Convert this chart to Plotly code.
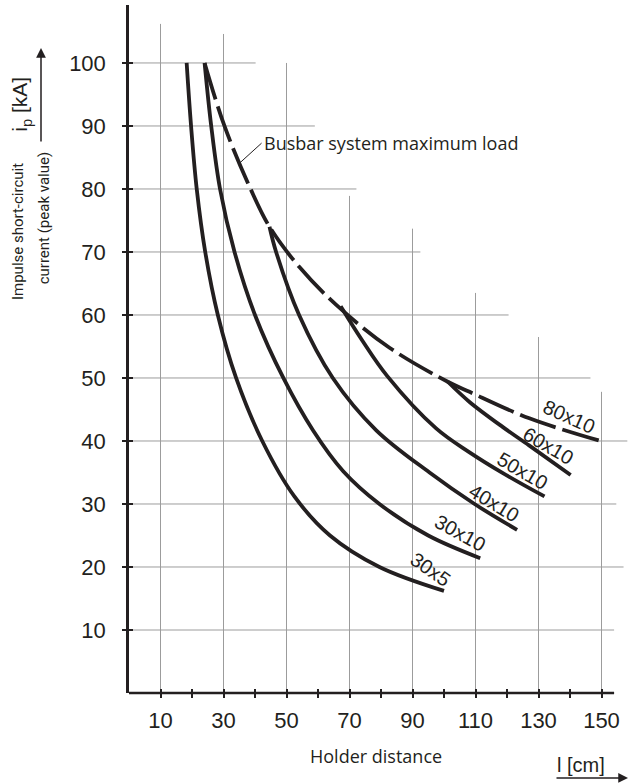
import plotly.graph_objects as go

# curves, holder distance l [cm] vs peak current ip [kA]
x_30x5 = [18.3, 19.7, 21.5, 24.2, 28.2, 34.0, 42.3, 52.5, 63.8, 79.5, 100.0]
y_30x5 = [100, 90, 80, 70, 60, 50, 40, 31.2, 25, 20, 16.2]

x_30x10 = [24.0, 26.1, 28.9, 33.5, 40.0, 49.0, 58.4, 68.0, 79.5, 95.0, 111.5]
y_30x10 = [100, 90, 80, 70, 60, 50, 41.7, 35.2, 30, 25, 21.4]

x_40x10 = [44.6, 46.7, 54.0, 64.7, 78.5, 95.4, 109.7, 123.2]
y_40x10 = [74, 70, 60, 50, 41.7, 35, 30, 25.9]

x_50x10 = [67.2, 74.0, 82.0, 97.5, 108.1, 118.7, 131.9]
y_50x10 = [61.4, 56, 50.3, 42, 38.2, 34.9, 31.2]

x_60x10 = [101.2, 108.1, 118.7, 127.0, 140.2]
y_60x10 = [49.4, 46.2, 42.2, 39.3, 34.6]

# busbar system maximum load (dashed), its tail is the 80x10 curve
x_maxload = [24.0, 30.3, 38.6, 44.6, 54.1, 65.8, 82.7, 101.2, 108.1, 127.1, 150.4]
y_maxload = [100, 90, 80, 74, 67.6, 61.6, 54.8, 49.4, 47.8, 43.6, 39.9]

curve_names = ["30x5", "30x10", "40x10", "50x10", "60x10", "80x10"]

x_ticks = [10, 20, 30, 40, 50, 60, 70, 80, 90, 100, 110, 120, 130, 140, 150]
x_ticktext = ["10", "", "30", "", "50", "", "70", "", "90", "", "110", "", "130", "", "150"]
y_ticks = [10, 20, 30, 40, 50, 60, 70, 80, 90, 100]

# the grid is stepped: each line stops at its own length
grid_x = [10, 30, 50, 70, 90, 110, 130, 150]
grid_x_top = [106.2, 104.6, 100.0, 78.9, 73.7, 63.5, 56.5, 47.8]
grid_y = [10, 20, 30, 40, 50, 60, 70, 80, 90, 100]
grid_y_end = [154.0, 157.0, 154.7, 158.2, 146.5, 120.5, 92.5, 72.2, 59.0, 40.2]

X_RANGE = [0, 158.73]
Y_RANGE = [0, 109.2]
X_AXIS_END = 154

INK = "#231f20"
GRID = "#9c9c9c"
ARIAL = "Liberation Sans, Arial, sans-serif"
MYRIAD = "Open Sans, Noto Sans, sans-serif"
NARROW = "Liberation Sans Narrow, Roboto, sans-serif"

fig = go.Figure()

# grid lines
gx, gy = [], []
for x, top in zip(grid_x, grid_x_top):
    gx += [x, x, None]
    gy += [0, top, None]
for y, end in zip(grid_y, grid_y_end):
    gx += [0, end, None]
    gy += [y, y, None]
fig.add_trace(go.Scatter(x=gx, y=gy, mode="lines", line=dict(color=GRID, width=1),
                         hoverinfo="skip", showlegend=False))

curves = [(x_30x5, y_30x5), (x_30x10, y_30x10), (x_40x10, y_40x10),
          (x_50x10, y_50x10), (x_60x10, y_60x10)]
for name, (xs, ys) in zip(curve_names, curves):
    fig.add_trace(go.Scatter(x=xs, y=ys, mode="lines", name=name,
                             line=dict(color=INK, width=3.8, shape="spline", smoothing=1),
                             showlegend=False))

fig.add_trace(go.Scatter(x=x_maxload, y=y_maxload, mode="lines", name="max load",
                         line=dict(color=INK, width=3.8, shape="spline", smoothing=1,
                                   dash="38px,7px"),
                         showlegend=False))

# empty trace so the second axes (inner tick halves) get drawn
fig.add_trace(go.Scatter(x=[], y=[], xaxis="x2", yaxis="y2", showlegend=False, hoverinfo="skip"))

# curve labels, placed from the end of each curve
ends = [(xs[-1], ys[-1]) for xs, ys in curves] + [(x_maxload[-1], y_maxload[-1])]
label_shift = [(-14, 22), (-20, 25), (-23, 27), (-22, 25), (-22, 29), (-33, 25)]
label_angle = [35, 29, 31, 30, 30, 24]
for name, (ex, ey), (sx, sy), ang in zip(curve_names, ends, label_shift, label_angle):
    fig.add_annotation(x=ex, y=ey, xref="x", yref="y", text=name, showarrow=False,
                       xshift=sx, yshift=sy, textangle=ang,
                       xanchor="center", yanchor="middle",
                       font=dict(family=ARIAL, size=20, color=INK))

fig.add_annotation(x=35.1, y=84.1, xref="x", yref="y", text="Busbar system maximum load",
                   showarrow=True, arrowhead=0, arrowwidth=1, arrowcolor=INK,
                   ax=22, ay=-20, xanchor="left", yanchor="middle",
                   font=dict(family=MYRIAD, size=18, color=INK))


def caption(x, y, text, font, size, angle=0):
    fig.add_annotation(x=x, y=y, xref="paper", yref="paper", text=text, textangle=angle,
                       showarrow=False, xanchor="center", yanchor="middle",
                       font=dict(family=font, size=size, color=INK))


def arrow(x, y, ax, ay):
    fig.add_annotation(x=x, y=y, xref="paper", yref="paper", text="", showarrow=True,
                       ax=ax, ay=ay, arrowhead=2, arrowsize=1.3, arrowwidth=1.5,
                       arrowcolor=INK, standoff=0)


# axis captions
caption(-0.216, 0.855, "i<sub>p</sub> [kA]", ARIAL, 21, -90)
arrow(-0.176, 0.9375, 0, 95)
caption(-0.222, 0.670, "Impulse short-circuit", NARROW, 15, -90)
caption(-0.170, 0.690, "current (peak value)", NARROW, 15, -90)
caption(0.494, -0.0916, "Holder distance", MYRIAD, 18)
caption(0.904, -0.1040, "l [cm]", ARIAL, 20)
arrow(0.998, -0.1235, -73, 0)

# bottom axis line stops short of the right edge
fig.add_shape(type="line", xref="paper", yref="paper", x0=0, x1=X_AXIS_END / X_RANGE[1],
              y0=0, y1=0, line=dict(color=INK, width=2.5))

tickfont = dict(family=ARIAL, size=22, color=INK)
fig.update_layout(
    width=629, height=784,
    margin=dict(l=129, r=0, t=5, b=91, autoexpand=False),
    paper_bgcolor="white", plot_bgcolor="white",
    xaxis=dict(range=X_RANGE, showgrid=False, zeroline=False, showline=False,
               automargin=False,
               tickvals=x_ticks, ticktext=x_ticktext, ticks="outside", ticklen=4,
               tickwidth=2, tickcolor=INK, tickfont=tickfont, ticklabelstandoff=4),
    yaxis=dict(range=Y_RANGE, showgrid=False, zeroline=False, showline=True,
               automargin=False,
               linecolor=INK, linewidth=2.5, tickvals=y_ticks, ticks="outside",
               ticklen=4, tickwidth=2, tickcolor=INK, tickfont=tickfont,
               ticklabelstandoff=12),
    xaxis2=dict(range=X_RANGE, overlaying="x", anchor="y2", showgrid=False, zeroline=False,
                automargin=False,
                tickvals=x_ticks, ticks="inside", ticklen=4, tickwidth=2, tickcolor=INK,
                showticklabels=False),
    yaxis2=dict(range=Y_RANGE, overlaying="y", anchor="x2", showgrid=False, zeroline=False,
                automargin=False,
                tickvals=y_ticks, ticks="inside", ticklen=4, tickwidth=2, tickcolor=INK,
                showticklabels=False),
)

# the page body has a default 8px margin; drop it so the figure sits at the corner
fig.write_html("out.html", config={"displayModeBar": False},
               post_script="document.body.style.margin='0';")
